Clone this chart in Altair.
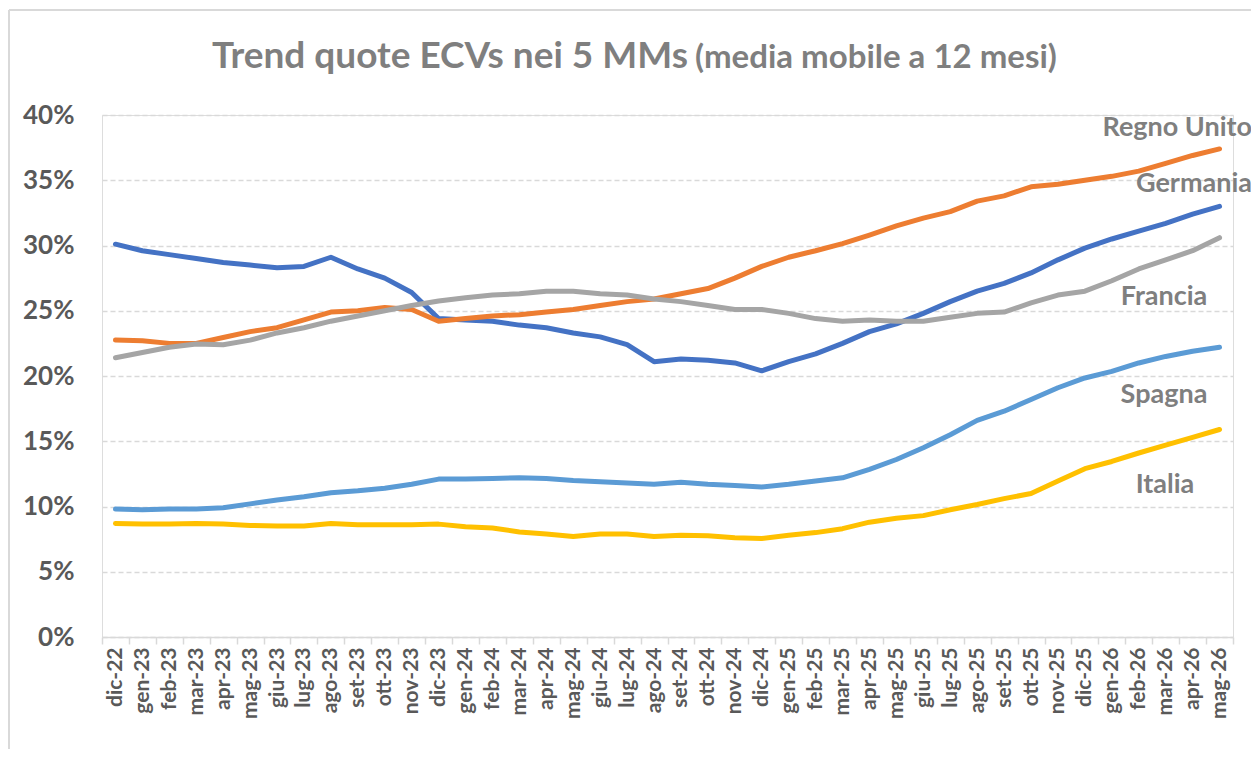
import altair as alt
import pandas as pd

months = ["dic-22", "gen-23", "feb-23", "mar-23", "apr-23", "mag-23", "giu-23", "lug-23",
          "ago-23", "set-23", "ott-23", "nov-23", "dic-23", "gen-24", "feb-24", "mar-24",
          "apr-24", "mag-24", "giu-24", "lug-24", "ago-24", "set-24", "ott-24", "nov-24",
          "dic-24", "gen-25", "feb-25", "mar-25", "apr-25", "mag-25", "giu-25", "lug-25",
          "ago-25", "set-25", "ott-25", "nov-25", "dic-25", "gen-26", "feb-26", "mar-26",
          "apr-26", "mag-26"]

germania = [30.1, 29.6, 29.3, 29.0, 28.7, 28.5, 28.3, 28.4, 29.1, 28.2, 27.5, 26.4, 24.4, 24.3, 24.2,
            23.9, 23.7, 23.3, 23.0, 22.4, 21.1, 21.3, 21.2, 21.0, 20.4, 21.1, 21.7, 22.5, 23.4,
            24.0, 24.8, 25.7, 26.5, 27.1, 27.9, 28.9, 29.8, 30.5, 31.1, 31.7, 32.4, 33.0]
regno_unito = [22.75, 22.7, 22.5, 22.5, 22.95, 23.4, 23.7, 24.3, 24.9, 25.0, 25.25, 25.1, 24.2, 24.4, 24.6,
               24.7, 24.9, 25.1, 25.4, 25.7, 25.9, 26.3, 26.7, 27.5, 28.4, 29.1, 29.6, 30.15, 30.8,
               31.5, 32.1, 32.6, 33.4, 33.8, 34.5, 34.7, 35.0, 35.3, 35.7, 36.3, 36.9, 37.4]
francia = [21.4, 21.8, 22.2, 22.45, 22.4, 22.75, 23.3, 23.7, 24.2, 24.6, 25.0, 25.4, 25.75, 26.0, 26.2,
           26.3, 26.5, 26.5, 26.3, 26.2, 25.9, 25.7, 25.4, 25.1, 25.1, 24.8, 24.4, 24.2, 24.3,
           24.2, 24.2, 24.5, 24.8, 24.9, 25.6, 26.2, 26.5, 27.3, 28.2, 28.9, 29.6, 30.6]
spagna = [9.8, 9.75, 9.8, 9.8, 9.9, 10.2, 10.5, 10.75, 11.05, 11.2, 11.4, 11.7, 12.1, 12.1, 12.15,
          12.2, 12.15, 12.0, 11.9, 11.8, 11.7, 11.85, 11.7, 11.6, 11.5, 11.7, 11.95, 12.2, 12.85,
          13.6, 14.5, 15.5, 16.6, 17.3, 18.2, 19.1, 19.85, 20.35, 21.0, 21.5, 21.9, 22.2]
italia = [8.7, 8.65, 8.65, 8.7, 8.65, 8.55, 8.5, 8.5, 8.7, 8.6, 8.6, 8.6, 8.65, 8.45, 8.35,
          8.05, 7.9, 7.7, 7.9, 7.9, 7.7, 7.8, 7.75, 7.6, 7.55, 7.8, 8.0, 8.3, 8.8,
          9.1, 9.3, 9.75, 10.15, 10.6, 11.0, 11.95, 12.9, 13.45, 14.1, 14.7, 15.3, 15.9]

series_names = ["Germania", "Spagna", "Italia", "Regno Unito", "Francia"]
series_colors = ["#4472C4", "#5B9BD5", "#FFC000", "#ED7D31", "#A5A5A5"]
series_values = [germania, spagna, italia, regno_unito, francia]
y_ticks = [0, 5, 10, 15, 20, 25, 30, 35, 40]

title_main = "Trend quote ECVs nei 5 MMs"
title_sub = "(media mobile a 12 mesi)"

rows = []
for k, (name, vals) in enumerate(zip(series_names, series_values)):
    for m, v in zip(months, vals):
        rows.append({"mese": m, "paese": name, "quota": v, "ordine": k})
df = pd.DataFrame(rows)

FONT = "Lato"
W, H = 1131, 522

x_enc = alt.X(
    "mese:O", sort=months, bandPosition=0.5,
    scale=alt.Scale(type="band", domain=months, paddingInner=0, paddingOuter=0),
    axis=alt.Axis(title=None, labelAngle=270, labelAlign="right", labelBaseline="middle",
                  labelFont=FONT, labelFontSize=21, labelFontWeight="bold", labelColor="#595959",
                  labelPadding=3, labelOverlap=False, tickBand="extent", ticks=True, tickSize=7,
                  tickColor="#D9D9D9", tickWidth=1.5, domainColor="#D9D9D9", domainWidth=1.5,
                  grid=False),
)
y_enc = alt.Y(
    "quota:Q",
    scale=alt.Scale(domain=[0, 40], nice=False, zero=True),
    axis=alt.Axis(title=None, values=y_ticks, labelExpr="datum.value + '%'",
                  labelFont=FONT, labelFontSize=26, labelFontWeight="bold", labelColor="#595959",
                  labelPadding=28, domain=False, ticks=False, grid=True, gridColor="#D9D9D9",
                  gridWidth=1.5, gridDash=[5, 3]),
)

lines = alt.Chart(df).mark_line(strokeWidth=5, strokeJoin="round", strokeCap="round").encode(
    x=x_enc, y=y_enc,
    color=alt.Color("paese:N", scale=alt.Scale(domain=series_names, range=series_colors), legend=None),
    detail="paese:N",
    order="ordine:Q",
)

def txt(s, x, y, size, align, color="#7F7F7F"):
    return alt.Chart(pd.DataFrame({"t": [s]})).mark_text(
        font=FONT, fontSize=size, fontWeight="bold", color=color, align=align, baseline="alphabetic"
    ).encode(text="t:N", x=alt.value(x), y=alt.value(y))

title1 = txt(title_main, 586, -47, 37, "right")
title2 = txt(title_sub, 593, -47, 33, "left")

lab_ru = txt("Regno Unito", 1150, 21, 27, "right")
lab_de = txt("Germania", 1150, 77, 27, "right")
lab_fr = txt("Francia", 1062, 190, 27, "center")
lab_es = txt("Spagna", 1062, 288, 27, "center")
lab_it = txt("Italia", 1063, 378, 27, "center")

border_left = alt.Chart(pd.DataFrame({"a": [0]})).mark_rule(color="#D9D9D9", strokeWidth=2).encode(
    x=alt.value(-93), y=alt.value(-105), y2=alt.value(700))
border_top = alt.Chart(pd.DataFrame({"a": [0]})).mark_rule(color="#D9D9D9", strokeWidth=2).encode(
    x=alt.value(-93), x2=alt.value(1200), y=alt.value(-105))

chart = alt.layer(
    border_left, border_top, lines, title1, title2, lab_ru, lab_de, lab_fr, lab_es, lab_it
).properties(
    width=W, height=H,
    autosize=alt.AutoSizeParams(type="none"),
    padding={"left": 94, "top": 107, "right": 18, "bottom": 112},
).configure_view(stroke=None).configure(background="white")

chart.save("out.html", embed_options={"renderer": "svg", "actions": False})
